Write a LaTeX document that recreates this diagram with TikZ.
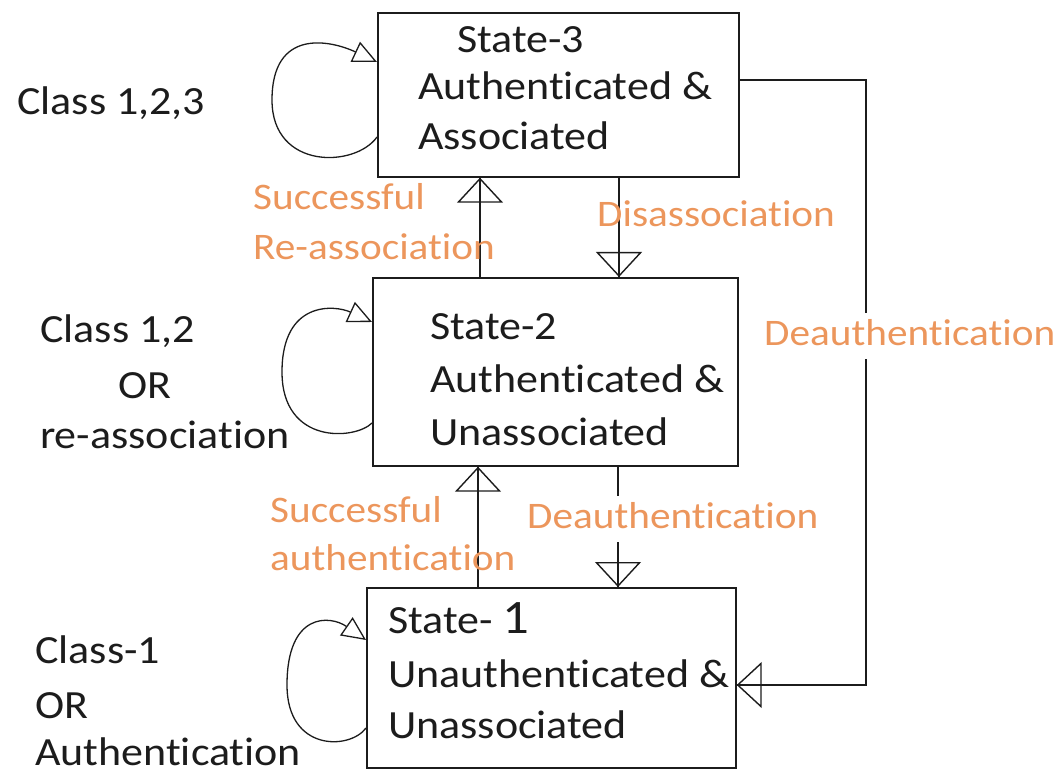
\documentclass[tikz,border=0pt]{standalone}
\usepackage{fontspec}
\setmainfont{Carlito}[FakeStretch=1.1,Ligatures=NoCommon]
\usetikzlibrary{arrows.meta,calc}
\definecolor{ink}{RGB}{28,28,28}
\definecolor{orng}{RGB}{236,150,92}
\begin{document}
\begin{tikzpicture}[x=1pt,y=-1pt,
  box/.style={draw=ink,line width=1.7pt,inner sep=0pt,anchor=north west},
  txt/.style={inner sep=0pt,anchor=base west,text=ink,font=\fontsize{40}{50}\selectfont},
  lbl/.style={inner sep=0pt,anchor=base west,text=orng,font=\fontsize{37.5}{48}\selectfont},
  blank/.style={lbl,fill=white,inner sep=2pt,text height=30pt,text depth=12pt},
  conn/.style={draw=ink,line width=1.5pt},
  tipv/.style={-{Triangle[open,length=25pt,width=46pt,line width=1.4pt]}},
  loopline/.style={draw=ink,line width=1.3pt},
  tipl/.style={-{Triangle[open,length=24pt,width=22pt,line width=1.3pt]}}]
\useasboundingbox (0,0) rectangle (1057,775);

% boxes
\node[box,minimum width=361pt,minimum height=164pt] (s3) at (377,12) {};
\node[box,minimum width=365pt,minimum height=188pt] (s2) at (372,277) {};
\node[box,minimum width=369pt,minimum height=180pt] (s1) at (366,587) {};

% box texts
\node[txt] (t3a) at (457,53) {State-3};
\node[txt] (t3b) at (418,100) {Authenticated \&};
\node[txt] (t3c) at (418,150) {Associated};
\node[txt] (t2a) at (430,340) {State-2};
\node[txt] (t2b) at (430,392) {Authenticated \&};
\node[txt] (t2c) at (430,445) {Unassociated};
\node[txt] (t1a) at (388,633) {State- {\fontsize{48}{50}\selectfont 1}};
\node[txt] (t1b) at (388,687) {Unauthenticated \&};
\node[txt] (t1c) at (388,738) {Unassociated};

% left labels
\node[txt] (c3) at (17,115) {Class 1,2,3};
\node[txt] (c2a) at (40,343) {Class 1,2};
\node[txt] (c2b) at (118,398) {OR};
\node[txt] (c2c) at (40,448) {re-association};
\node[txt] (c1a) at (35,663) {Class-1};
\node[txt] (c1b) at (35,718) {OR};
\node[txt] (c1c) at (35,765) {Authentication};

% connector end points on the boxes
\coordinate (a32) at ($(s3.south west)+(103,0)$);
\coordinate (a23) at ($(s2.north west)+(108,0)$);
\coordinate (b32) at ($(s3.south west)+(242,0)$);
\coordinate (b23) at ($(s2.north west)+(247,0)$);
\coordinate (c21) at ($(s2.south west)+(106,0)$);
\coordinate (c12) at ($(s1.north west)+(112,0)$);
\coordinate (d21) at ($(s2.south west)+(246,0)$);
\coordinate (d12) at ($(s1.north west)+(252,0)$);
\coordinate (e3) at ($(s3.north east)+(0,68)$);
\coordinate (e1) at ($(s1.north east)+(0,98)$);
\coordinate (ec1) at (866,80);
\coordinate (ec2) at (866,685);

% vertical connectors
\draw[conn] (a23) -- (a32);
\draw[conn,tipv] (a23) -- (a32);
\draw[conn] (b32) -- (b23);
\draw[conn,tipv] (b32) -- (b23);
\draw[conn] (c12) -- (c21);
\draw[conn,tipv] (c12) -- (c21);
\draw[conn] (d21) -- (d12);
\draw[conn,tipv] (d21) -- (d12);
% long deauthentication connector
\draw[conn] (e3) -- (ec1) -- (ec2) -- (e1);
\draw[conn,tipv] (ec2) -- (e1);

% self loops
\coordinate (l3s) at ($(s3.north west)+(0,125)$);
\coordinate (l3e) at ($(s3.north west)+(0,50)$);
\draw[loopline,tipl] (l3s) .. controls (355,168) and (272,170) .. (272,100)
  .. controls (272,28) and (330,40) .. (l3e);
\coordinate (l2s) at ($(s2.north west)+(0,146)$);
\coordinate (l2e) at ($(s2.north west)+(0,45)$);
\draw[loopline,tipl] (l2s) .. controls (355,440) and (282,445) .. (282,372)
  .. controls (282,300) and (335,305) .. (l2e);
\coordinate (l1s) at ($(s1.north west)+(0,141)$);
\coordinate (l1e) at ($(s1.north west)+(0,53)$);
\draw[loopline,tipl] (l1s) .. controls (350,750) and (287,752) .. (287,685)
  .. controls (287,612) and (330,615) .. (l1e);

% orange labels
\node[lbl] (o1) at (253,210) {Successful};
\node[lbl] (o2) at (253,260) {Re-association};
\node[lbl] (o3) at (597,227) {Disassociation};
\node[blank] (o4) at (762,345) {Deauthentication};
\node[lbl] (o5) at (270,522) {Successful};
\node[lbl] (o6) at (270,570) {authentication};
\node[blank] (o7) at (525,528) {Deauthentication};
\end{tikzpicture}
\end{document}
